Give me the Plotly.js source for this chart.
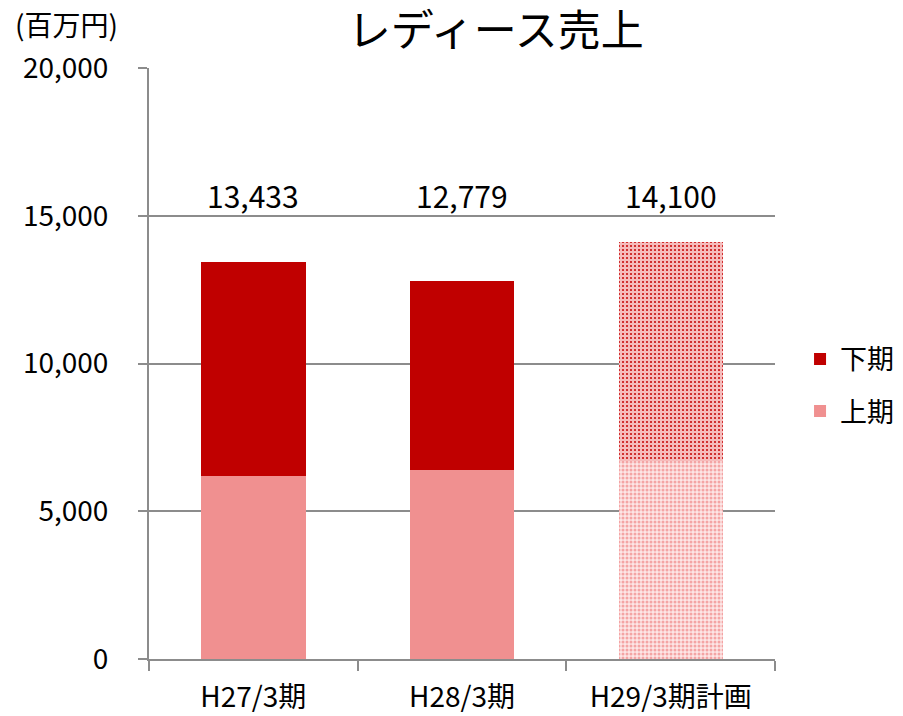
<!DOCTYPE html>
<html>
<head>
<meta charset="utf-8">
<script src="https://cdn.plot.ly/plotly-3.0.1.min.js"></script>
<style>html,body{margin:0;padding:0;background:#fff;}#chart{width:903px;height:716px;}</style>
</head>
<body>
<div id="chart"></div>
<script>
const categories = ["H27/3期", "H28/3期", "H29/3期計画"];
const firstHalf = [6200, 6400, 6700];     // 上期
const secondHalf = [7233, 6379, 7400];    // 下期
const totalLabels = ["13,433", "12,779", "14,100"];
const isPlan = [false, false, true];

const FONT = '"Noto Sans CJK JP", "Noto Sans", sans-serif';

const trLower = {
  type: "bar", name: "上期", x: categories, y: firstHalf,
  legendgroup: "a", legendrank: 2,
  marker: {
    color: "#f09090",
    line: {width: 0},
    pattern: {
      shape: isPlan.map(p => p ? "." : ""),
      fgcolor: isPlan.map(p => p ? "#f4a4a4" : "#f09090"),
      bgcolor: isPlan.map(p => p ? "#fde6e6" : "#f09090"),
      size: 4, solidity: 0.45
    }
  },
  hoverinfo: "skip"
};
const trUpper = {
  type: "bar", name: "下期", x: categories, y: secondHalf,
  legendgroup: "b", legendrank: 1,
  marker: {
    color: "#c00000",
    line: {width: 0},
    pattern: {
      shape: isPlan.map(p => p ? "." : ""),
      fgcolor: isPlan.map(p => p ? "#c80c0c" : "#c00000"),
      bgcolor: isPlan.map(p => p ? "#f6bcbc" : "#c00000"),
      size: 4, solidity: 0.22
    }
  },
  hoverinfo: "skip"
};

const annotations = categories.map((c, i) => ({
  x: c, y: 15700, xref: "x", yref: "y", text: totalLabels[i], showarrow: false,
  font: {family: FONT, size: 30, color: "#000"}
}));
annotations.push({
  x: (66 - 149) / 626, y: (659 - 24) / 591, xref: "paper", yref: "paper",
  xanchor: "center", yanchor: "middle",
  text: "(百万円)", showarrow: false,
  font: {family: FONT, size: 28, color: "#000"}
});

const layout = {
  width: 903, height: 716,
  margin: {l: 149, r: 128, t: 68, b: 57, autoexpand: false},
  paper_bgcolor: "#fff", plot_bgcolor: "#fff",
  barmode: "stack", bargap: 0.5,
  font: {family: FONT, size: 28, color: "#000"},
  title: {text: "レディース売上", x: 0.549, xanchor: "center", y: 0.957, yanchor: "middle",
          font: {family: FONT, size: 43, color: "#000"}},
  xaxis: {
    type: "category", showline: true, linecolor: "#8c8c8c", linewidth: 2,
    ticks: "outside", tickson: "boundaries", ticklen: 10, tickcolor: "#8c8c8c", tickwidth: 2,
    showgrid: false, tickfont: {family: FONT, size: 28, color: "#000"}, ticklabelstandoff: 12,
    fixedrange: true
  },
  yaxis: {
    range: [0, 20000], dtick: 5000, tickformat: ",d",
    showline: true, linecolor: "#8c8c8c", linewidth: 2,
    ticks: "outside", ticklen: 9, tickcolor: "#8c8c8c", tickwidth: 2,
    showgrid: true, gridcolor: "#8c8c8c", gridwidth: 2, zeroline: false,
    tickfont: {family: FONT, size: 28, color: "#000"}, ticklabelstandoff: 24,
    fixedrange: true
  },
  legend: {
    x: 1.04, xanchor: "left", y: 0.463, yanchor: "middle",
    traceorder: "grouped", tracegroupgap: 14,
    font: {family: FONT, size: 27, color: "#000"}, bgcolor: "rgba(0,0,0,0)"
  },
  annotations: annotations,
  showlegend: true
};

Plotly.newPlot("chart", [trLower, trUpper], layout, {displayModeBar: false, staticPlot: true});
</script>
</body>
</html>
